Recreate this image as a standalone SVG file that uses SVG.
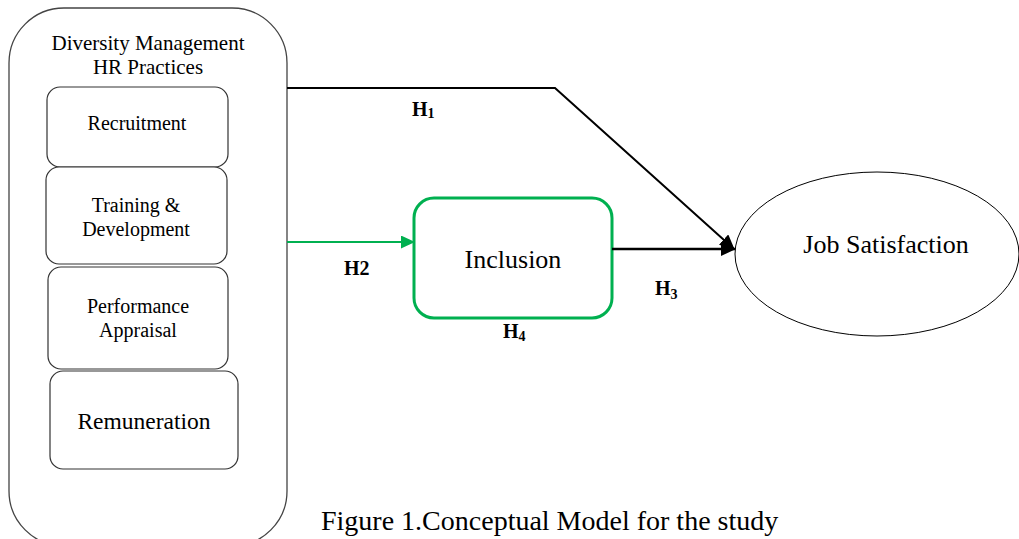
<svg xmlns="http://www.w3.org/2000/svg" width="1019" height="539" viewBox="0 0 1019 539">
<style>
text{font-family:"Liberation Serif","Times New Roman",serif;fill:#000}
.box{fill:#fff;stroke:#333;stroke-width:1.2}
.lbl{font-weight:bold;font-size:20px}
.sub{font-weight:bold;font-size:14px}
</style>
<defs>
<marker id="ab" markerWidth="15" markerHeight="14" refX="14" refY="7" orient="auto" markerUnits="userSpaceOnUse" viewBox="0 0 15 14"><path d="M0,0 L15,7 L0,14 z" fill="#000"/></marker>
<marker id="ag" markerWidth="14" markerHeight="13" refX="13" refY="6.5" orient="auto" markerUnits="userSpaceOnUse" viewBox="0 0 14 13"><path d="M0,0 L14,6.5 L0,13 z" fill="#00b050"/></marker>
</defs>
<rect width="1019" height="539" fill="#fff"/>
<g id="hr-practices">
<rect x="9" y="8" width="278" height="538" rx="55" ry="55" fill="#fff" stroke="#444" stroke-width="1.3"/>
<text x="148" y="50" font-size="21" text-anchor="middle">Diversity Management</text>
<text x="148" y="74" font-size="21" text-anchor="middle">HR Practices</text>
</g>
<g id="recruitment">
<rect class="box" x="47" y="87" width="181" height="80" rx="13"/>
<text x="137" y="130" font-size="20" text-anchor="middle">Recruitment</text>
</g>
<g id="training">
<rect class="box" x="46" y="167" width="181" height="97" rx="13"/>
<text x="136" y="212" font-size="20" text-anchor="middle">Training &amp;</text>
<text x="136" y="236" font-size="20" text-anchor="middle">Development</text>
</g>
<g id="performance">
<rect class="box" x="48" y="267" width="180" height="102" rx="13"/>
<text x="138" y="313" font-size="20" text-anchor="middle">Performance</text>
<text x="138" y="337" font-size="20" text-anchor="middle">Appraisal</text>
</g>
<g id="remuneration">
<rect class="box" x="50" y="371" width="188" height="98" rx="13"/>
<text x="144" y="429" font-size="23.5" text-anchor="middle">Remuneration</text>
</g>
<g id="inclusion">
<rect x="414" y="198" width="198" height="120" rx="20" fill="#fff" stroke="#00b050" stroke-width="3"/>
<text x="513" y="268" font-size="26" text-anchor="middle">Inclusion</text>
</g>
<g id="job-satisfaction">
<ellipse cx="877" cy="254" rx="142" ry="82" fill="#fff" stroke="#000" stroke-width="1"/>
<text x="886" y="253" font-size="26" text-anchor="middle">Job Satisfaction</text>
</g>
<g id="connectors">
<polyline points="287,88 555,88 734,249" fill="none" stroke="#000" stroke-width="2" marker-end="url(#ab)"/>
<line x1="287" y1="242" x2="414" y2="242" stroke="#00b050" stroke-width="2" marker-end="url(#ag)"/>
<line x1="612" y1="249" x2="735" y2="249" stroke="#000" stroke-width="2.5" marker-end="url(#ab)"/>
</g>
<g id="labels">
<text x="412" y="116"><tspan class="lbl">H</tspan><tspan class="sub" dy="2">1</tspan></text>
<text x="344" y="275" class="lbl">H2</text>
<text x="655" y="295"><tspan class="lbl">H</tspan><tspan class="sub" dy="4">3</tspan></text>
<text x="503" y="338"><tspan class="lbl">H</tspan><tspan class="sub" dy="3">4</tspan></text>
<text x="321" y="530" font-size="28">Figure 1.Conceptual Model for the study</text>
</g>
</svg>
